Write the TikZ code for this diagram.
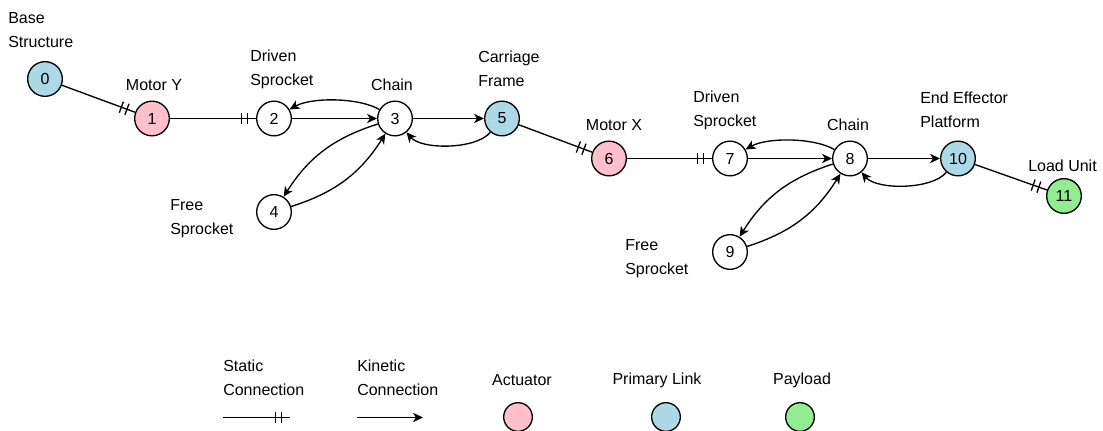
\documentclass[tikz,border=0pt]{standalone}
\usepackage{fontspec}
\setmainfont{Liberation Sans}
\usepackage{tikz}
\usepackage{xcolor}
\usetikzlibrary{arrows.meta,decorations.markings}
\definecolor{actuator-pink}{HTML}{FFC0CB}
\definecolor{link-blue}{HTML}{ADD8E6}
\definecolor{payload-green}{HTML}{90EE90}
\tikzset{
    joint-node/.style = {draw, circle, fill=white, line width=1pt, minimum size=26pt, inner sep=0pt, font=\fontsize{12}{14}\selectfont},
    key-node/.style = {draw, circle, line width=1pt, minimum size=21.5pt, inner sep=0pt},
    part-label/.style = {align=left, inner sep=0pt, font=\fontsize{12}{18}\selectfont},
    kinetic-link/.style = {line width=1pt, -{Stealth[length=7.5pt, width=7pt, inset=2.2pt]}},
    static-link/.style = {line width=1pt, postaction={decorate},
        decoration={markings,
            mark=at position -11pt with {\draw[line width=1pt] (0,-4.4pt) -- (0,4.4pt);},
            mark=at position -6.5pt with {\draw[line width=1pt] (0,-4.4pt) -- (0,4.4pt);}}},
}

\begin{document}
\begin{tikzpicture}[x=0.75pt, y=0.75pt]
\useasboundingbox (0,0) rectangle (1103,-431);

\node[joint-node, fill=link-blue] (n0) at (45,-79) {0};
\node[joint-node, fill=actuator-pink] (n1) at (152,-118.5) {1};
\node[joint-node] (n2) at (274,-118.5) {2};
\node[joint-node] (n3) at (395,-118.5) {3};
\node[joint-node] (n4) at (274,-212) {4};
\node[joint-node, fill=link-blue] (n5) at (502,-118.5) {5};
\node[joint-node, fill=actuator-pink] (n6) at (609,-158.5) {6};
\node[joint-node] (n7) at (730,-158.5) {7};
\node[joint-node] (n8) at (850,-158.5) {8};
\node[joint-node] (n9) at (730,-252) {9};
\node[joint-node, fill=link-blue] (n10) at (958,-158.5) {10};
\node[joint-node, fill=payload-green] (n11) at (1064,-196) {11};

\node[part-label, anchor=west] (l0) at (8,-30) {Base\\Structure};
\node[part-label] (l1) at (154,-85) {Motor Y};
\node[part-label, anchor=west] (l2) at (250,-69) {Driven\\Sprocket};
\node[part-label] (l3) at (392,-85) {Chain};
\node[part-label, anchor=west] (l4) at (170,-219) {Free\\Sprocket};
\node[part-label, anchor=west] (l5) at (478,-69) {Carriage\\Frame};
\node[part-label] (l6) at (614,-125) {Motor X};
\node[part-label, anchor=west] (l7) at (693,-110) {Driven\\Sprocket};
\node[part-label] (l8) at (848,-125) {Chain};
\node[part-label, anchor=west] (l9) at (625,-258.5) {Free\\Sprocket};
\node[part-label, anchor=west] (l10) at (920,-110) {End Effector\\Platform};
\node[part-label, anchor=west] (l11) at (1028,-166) {Load Unit};

\draw[static-link] (n0) -- (n1);
\draw[static-link] (n1) -- (n2);
\draw[kinetic-link] (n2) -- (n3);
\draw[kinetic-link] (n3) to[bend right=30, looseness=0.7] (n2);
\draw[kinetic-link] (n3) to[bend right=20] (n4);
\draw[kinetic-link] (n4) to[bend right=20] (n3);
\draw[kinetic-link] (n3) -- (n5);
\draw[kinetic-link] (n5) to[bend left=50, looseness=0.7] (n3);
\draw[static-link] (n5) -- (n6);
\draw[static-link] (n6) -- (n7);
\draw[kinetic-link] (n7) -- (n8);
\draw[kinetic-link] (n8) to[bend right=30, looseness=0.7] (n7);
\draw[kinetic-link] (n8) to[bend right=20] (n9);
\draw[kinetic-link] (n9) to[bend right=20] (n8);
\draw[kinetic-link] (n8) -- (n10);
\draw[kinetic-link] (n10) to[bend left=50, looseness=0.7] (n8);
\draw[static-link] (n10) -- (n11);

\node[part-label, anchor=west] (k1) at (223,-377.5) {Static\\Connection};
\node[part-label, anchor=west] (k2) at (357,-377.5) {Kinetic\\Connection};
\node[part-label] (k3) at (522,-380) {Actuator};
\node[part-label] (k4) at (657,-380) {Primary Link};
\node[part-label] (k5) at (802,-380) {Payload};
\coordinate (s1) at (223,-417.5);
\coordinate (s2) at (290,-417.5);
\coordinate (m1) at (357,-417.5);
\coordinate (m2) at (423,-417.5);
\draw[static-link] (s1) -- (s2);
\draw[kinetic-link] (m1) -- (m2);
\node[key-node, fill=actuator-pink] (c1) at (518,-417) {};
\node[key-node, fill=link-blue] (c2) at (666,-417) {};
\node[key-node, fill=payload-green] (c3) at (800,-417) {};
\end{tikzpicture}
\end{document}
